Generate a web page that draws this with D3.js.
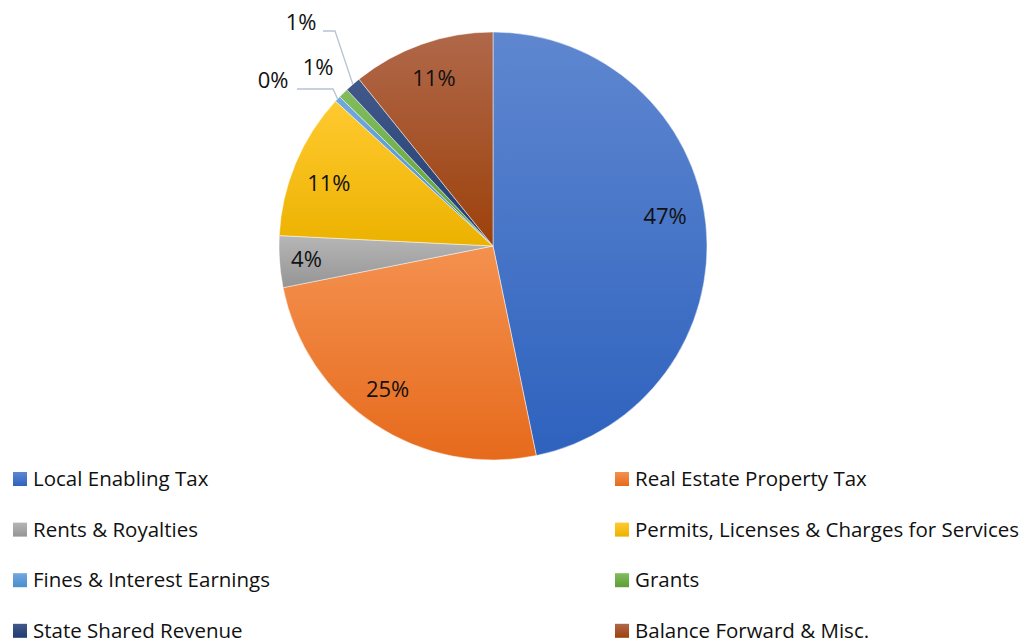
<!doctype html>
<html>
<head>
<meta charset="utf-8">
<script src="https://cdnjs.cloudflare.com/ajax/libs/d3/7.8.5/d3.min.js"></script>
<style>
  body { margin: 0; background: #fff; }
  svg { display: block; font-family: "Open Sans", "Liberation Sans", sans-serif; }
</style>
</head>
<body>
<svg id="chart" width="1028" height="643"></svg>
<script>
// data (share of revenue, %)
var categories = ["Local Enabling Tax", "Real Estate Property Tax", "Rents & Royalties",
  "Permits, Licenses & Charges for Services", "Fines & Interest Earnings", "Grants",
  "State Shared Revenue", "Balance Forward & Misc."];
var shares = [46.9, 25.2, 3.9, 11.1, 0.45, 0.75, 1.2, 10.8];
var topColors = ["#5f87d0", "#f4914f", "#b6b6b6", "#ffca30", "#6fa9de", "#81bd5e", "#42598a", "#b0684a"];
var bottomColors = ["#2e62be", "#e66a1c", "#959595", "#ecb200", "#4b8ecc", "#5e9d36", "#1f3c71", "#9d410b"];

var svg = d3.select("#chart");
var cx = 493, cy = 246, R = 214;

var defs = svg.append("defs");
categories.forEach(function (c, i) {
  var g = defs.append("linearGradient").attr("id", "grad" + i)
    .attr("x1", 0).attr("y1", 0).attr("x2", 0).attr("y2", 1);
  g.append("stop").attr("offset", "0%").attr("stop-color", topColors[i]);
  g.append("stop").attr("offset", "100%").attr("stop-color", bottomColors[i]);
});

var pie = d3.pie().sort(null).value(d => d);
var arcs = pie(shares);
var arc = d3.arc().innerRadius(0).outerRadius(R);

var g = svg.append("g").attr("transform", "translate(" + cx + "," + cy + ")");

g.selectAll("path.slice")
  .data(arcs)
  .enter()
  .append("path")
    .attr("class", "slice")
    .attr("d", arc)
    .attr("fill", (d, i) => "url(#grad" + i + ")")
    .attr("stroke", "#fff")
    .attr("stroke-opacity", 0.6)
    .attr("stroke-width", 0.8);

function pct(v) { return Math.round(v) + "%"; }
function mid(d) { return (d.startAngle + d.endAngle) / 2; }

// labels inside the big slices (small nudges to follow Excel's placement)
var nudge = { 0: [-5, -12], 1: [-7, -5], 2: [-9, 0], 3: [0, 6] };
var inside = arcs.map((d, i) => ({ d: d, i: i })).filter(o => o.d.data >= 3);
var labelR = 178;
g.selectAll("text.in")
  .data(inside)
  .enter()
  .append("text")
    .attr("class", "in")
    .attr("x", o => Math.sin(mid(o.d)) * labelR + (nudge[o.i] ? nudge[o.i][0] : 0))
    .attr("y", o => -Math.cos(mid(o.d)) * labelR + 8 + (nudge[o.i] ? nudge[o.i][1] : 0))
    .attr("text-anchor", "middle")
    .attr("font-size", 22)
    .attr("fill", "#111")
    .text(o => pct(o.d.data));

// small slices: labels outside, placed like Excel's best fit
var outside = {
  4: { x: -220, y: -158, line: [[-196, -157], [-160, -157]] },
  5: { x: -175, y: -171, line: null },
  6: { x: -192, y: -216, line: [[-170, -215], [-158, -215]] }
};
arcs.forEach(function (d, i) {
  var o = outside[i];
  if (!o) return;
  var a = mid(d);
  var edge = [Math.sin(a) * R, -Math.cos(a) * R];
  if (o.line) {
    g.append("polyline")
      .attr("points", o.line.concat([edge]).map(p => p.join(",")).join(" "))
      .attr("fill", "none")
      .attr("stroke", "#b7c3d3")
      .attr("stroke-width", 1.3);
  }
  g.append("text")
    .attr("x", o.x)
    .attr("y", o.y)
    .attr("text-anchor", "middle")
    .attr("font-size", 22)
    .attr("fill", "#111")
    .text(pct(d.data));
});

// legend, two columns
var legend = svg.append("g");
var item = legend.selectAll("g.item")
  .data(categories)
  .enter()
  .append("g")
    .attr("class", "item")
    .attr("transform", (d, i) => "translate(" + (i % 2 ? 615 : 13) + "," + (472 + Math.floor(i / 2) * 50.6) + ")");
item.append("rect")
  .attr("width", 14).attr("height", 14)
  .attr("fill", (d, i) => "url(#grad" + i + ")");
item.append("text")
  .attr("x", 20)
  .attr("y", 14)
  .attr("font-size", 20.5)
  .attr("fill", "#111")
  .text(d => d);
</script>
</body>
</html>
